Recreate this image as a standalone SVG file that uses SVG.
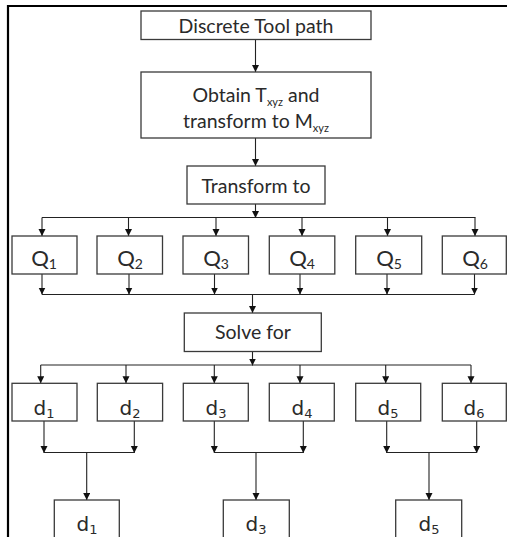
<svg xmlns="http://www.w3.org/2000/svg" width="507" height="537" viewBox="0 0 507 537">
<defs>
<marker id="ah" markerUnits="userSpaceOnUse" markerWidth="8" markerHeight="8" refX="7" refY="3.5" orient="auto">
<path d="M0,0 L7,3.5 L0,7 Z" fill="#111"/>
</marker>
<style>
.box{fill:#fff;stroke:#3a3a3a;stroke-width:1.3}
.ln{fill:none;stroke:#222;stroke-width:1.1}
.ar{fill:none;stroke:#222;stroke-width:1.1;marker-end:url(#ah)}
.t{font-family:Lato,"Open Sans","Liberation Sans",sans-serif;font-size:19.5px;fill:#2a2a2a;text-anchor:middle}
.s{font-size:11px}
.q{font-family:Lato,"Open Sans","Liberation Sans",sans-serif;font-size:22px;fill:#2a2a2a;text-anchor:middle}
.qs{font-size:14px}
.d{font-family:"DejaVu Sans","Liberation Sans",sans-serif;font-size:20px;fill:#2a2a2a;text-anchor:middle}
.ds{font-size:13px}
</style>
</defs>
<rect x="-10" y="-10" width="600" height="600" fill="#fff"/>
<path d="M8,545 L8,6 L520,6" fill="none" stroke="#000" stroke-width="2.2"/>

<g id="connectors">
<line class="ar" x1="255.5" y1="39.5" x2="255.5" y2="72"/>
<line class="ar" x1="255.5" y1="138" x2="255.5" y2="166"/>
<line class="ar" x1="255.5" y1="204" x2="255.5" y2="218"/>
<line class="ln" x1="42" y1="217.5" x2="475.5" y2="217.5"/>
<line class="ar" x1="42" y1="217.5" x2="42" y2="236"/>
<line class="ar" x1="128.5" y1="217.5" x2="128.5" y2="236"/>
<line class="ar" x1="216" y1="217.5" x2="216" y2="236"/>
<line class="ar" x1="302" y1="217.5" x2="302" y2="236"/>
<line class="ar" x1="387.5" y1="217.5" x2="387.5" y2="236"/>
<line class="ar" x1="475" y1="217.5" x2="475" y2="236"/>
<line class="ar" x1="42" y1="274" x2="42" y2="294.5"/>
<line class="ar" x1="129" y1="274" x2="129" y2="294.5"/>
<line class="ar" x1="214.5" y1="274" x2="214.5" y2="294.5"/>
<line class="ar" x1="300" y1="274" x2="300" y2="294.5"/>
<line class="ar" x1="387" y1="274" x2="387" y2="294.5"/>
<line class="ar" x1="474.5" y1="274" x2="474.5" y2="294.5"/>
<line class="ln" x1="42" y1="294.5" x2="474.5" y2="294.5"/>
<line class="ar" x1="252.5" y1="294.5" x2="252.5" y2="313"/>
<line class="ar" x1="252.5" y1="351.5" x2="252.5" y2="365.5"/>
<line class="ln" x1="40.7" y1="365" x2="471" y2="365"/>
<line class="ar" x1="40.7" y1="365" x2="40.7" y2="383.3"/>
<line class="ar" x1="126" y1="365" x2="126" y2="383.3"/>
<line class="ar" x1="214.3" y1="365" x2="214.3" y2="383.3"/>
<line class="ar" x1="300" y1="365" x2="300" y2="383.3"/>
<line class="ar" x1="385.7" y1="365" x2="385.7" y2="383.3"/>
<line class="ar" x1="471" y1="365" x2="471" y2="383.3"/>
<line class="ar" x1="44" y1="421" x2="44" y2="453"/>
<line class="ar" x1="134.3" y1="421" x2="134.3" y2="453"/>
<line class="ln" x1="44" y1="452.5" x2="134.3" y2="452.5"/>
<line class="ar" x1="86.7" y1="452.5" x2="86.7" y2="500"/>
<line class="ar" x1="214.3" y1="421" x2="214.3" y2="453"/>
<line class="ar" x1="303.3" y1="421" x2="303.3" y2="453"/>
<line class="ln" x1="214.3" y1="452.5" x2="303.3" y2="452.5"/>
<line class="ar" x1="256" y1="452.5" x2="256" y2="500"/>
<line class="ar" x1="386.7" y1="421" x2="386.7" y2="453"/>
<line class="ar" x1="476.7" y1="421" x2="476.7" y2="453"/>
<line class="ln" x1="386.7" y1="452.5" x2="476.7" y2="452.5"/>
<line class="ar" x1="429" y1="452.5" x2="429" y2="500"/>
</g>

<g id="n-discrete"><rect class="box" x="141" y="11" width="230" height="28.5"/><text class="t" x="256" y="33">Discrete Tool path</text></g>
<g id="n-obtain"><rect class="box" x="141" y="72" width="230" height="66"/>
<text class="t" x="256" y="102">Obtain T<tspan class="s" dy="4">xyz</tspan><tspan dy="-4">  and</tspan></text>
<text class="t" x="256" y="127.5">transform to M<tspan class="s" dy="4">xyz</tspan></text></g>
<g id="n-transform"><rect class="box" x="187" y="166" width="138" height="38"/><text class="t" x="256" y="193">Transform to</text></g>

<g id="n-q1"><rect class="box" x="12" y="236" width="65" height="38"/><text class="q" x="44" y="265.5">Q<tspan class="qs" dy="3">1</tspan></text></g>
<g id="n-q2"><rect class="box" x="97" y="236" width="65.5" height="38"/><text class="q" x="130" y="265.5">Q<tspan class="qs" dy="3">2</tspan></text></g>
<g id="n-q3"><rect class="box" x="183" y="236" width="65.5" height="38"/><text class="q" x="216" y="265.5">Q<tspan class="qs" dy="3">3</tspan></text></g>
<g id="n-q4"><rect class="box" x="269.3" y="236" width="65.5" height="38"/><text class="q" x="302" y="265.5">Q<tspan class="qs" dy="3">4</tspan></text></g>
<g id="n-q5"><rect class="box" x="355.7" y="236" width="66" height="38"/><text class="q" x="389" y="265.5">Q<tspan class="qs" dy="3">5</tspan></text></g>
<g id="n-q6"><rect class="box" x="442.3" y="236" width="64" height="38"/><text class="q" x="475" y="265.5">Q<tspan class="qs" dy="3">6</tspan></text></g>

<g id="n-solve"><rect class="box" x="184.3" y="313" width="137" height="38.5"/><text class="t" x="253" y="339">Solve for</text></g>

<g id="n-d1"><rect class="box" x="12" y="383.3" width="65" height="37.7"/><text class="d" x="44" y="414.5">d<tspan class="ds" dy="3">1</tspan></text></g>
<g id="n-d2"><rect class="box" x="97.3" y="383.3" width="65.3" height="37.7"/><text class="d" x="130" y="414.5">d<tspan class="ds" dy="3">2</tspan></text></g>
<g id="n-d3"><rect class="box" x="183.3" y="383.3" width="65" height="37.7"/><text class="d" x="216" y="414.5">d<tspan class="ds" dy="3">3</tspan></text></g>
<g id="n-d4"><rect class="box" x="269.3" y="383.3" width="65" height="37.7"/><text class="d" x="302" y="414.5">d<tspan class="ds" dy="3">4</tspan></text></g>
<g id="n-d5"><rect class="box" x="355.7" y="383.3" width="65" height="37.7"/><text class="d" x="388" y="414.5">d<tspan class="ds" dy="3">5</tspan></text></g>
<g id="n-d6"><rect class="box" x="442.3" y="383.3" width="64" height="37.7"/><text class="d" x="474" y="414.5">d<tspan class="ds" dy="3">6</tspan></text></g>

<g id="n-r1"><rect class="box" x="54.3" y="500" width="65" height="50"/><text class="d" x="87" y="531">d<tspan class="ds" dy="3">1</tspan></text></g>
<g id="n-r3"><rect class="box" x="223.3" y="500" width="66" height="50"/><text class="d" x="256" y="531">d<tspan class="ds" dy="3">3</tspan></text></g>
<g id="n-r5"><rect class="box" x="395.7" y="500" width="66" height="50"/><text class="d" x="429" y="531">d<tspan class="ds" dy="3">5</tspan></text></g>
</svg>
